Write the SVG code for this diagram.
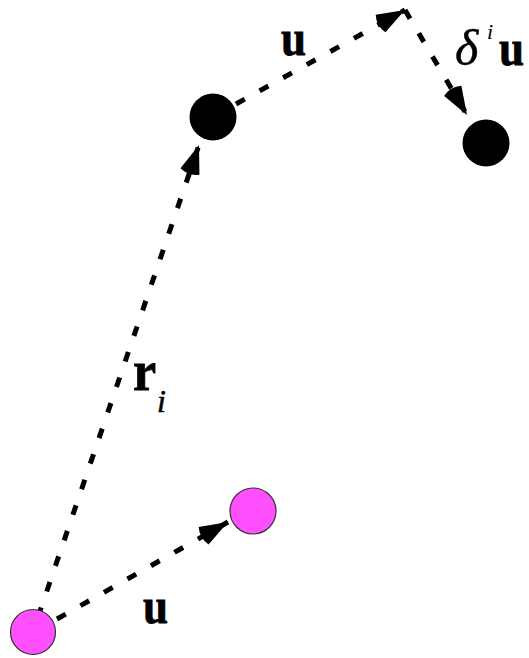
<svg xmlns="http://www.w3.org/2000/svg" width="529" height="658" viewBox="0 0 529 658">
<style>
.c{fill:none;stroke:#000;stroke-width:5;stroke-dasharray:10 17}
.bl{fill:#000}
.pk{fill:#ff50ff;stroke:#333;stroke-width:1.2}
.lb{font-family:"Liberation Serif",serif;font-weight:bold;fill:#000;stroke:#000;stroke-width:0.8}
.it{font-family:"Liberation Serif",serif;font-style:italic;fill:#000}
</style>
<defs>
<marker id="ah" markerUnits="userSpaceOnUse" markerWidth="40" markerHeight="30" viewBox="-34 -15 40 30" refX="0" refY="0" orient="auto">
<path d="M0,0 L-28,-10 Q-33,0 -28,10 Z" fill="#000"/>
</marker>
</defs>
<rect width="529" height="658" fill="#fff"/>
<g id="connectors">
<path class="c" d="M38,617 L199,145" marker-end="url(#ah)"/>
<path class="c" d="M57,619 L228,522" marker-end="url(#ah)"/>
<path class="c" d="M236,104 L405,10" marker-end="url(#ah)"/>
<path class="c" d="M405,10 L467,115" marker-end="url(#ah)"/>
</g>
<g id="pink1"><circle class="pk" cx="33" cy="632" r="22.5"/></g>
<g id="pink2"><circle class="pk" cx="253" cy="511" r="23"/></g>
<g id="black1"><circle class="bl" cx="213" cy="117" r="23.5"/></g>
<g id="black2"><circle class="bl" cx="486" cy="143" r="23.5"/></g>
<g id="labels">
<text class="lb" x="281" y="55" font-size="50" transform="translate(281 55) scale(0.9 1) translate(-281 -55)">u</text>
<text class="lb" x="143" y="623" font-size="50" transform="translate(143 623) scale(0.9 1) translate(-143 -623)">u</text>
<text class="lb" x="499" y="65" font-size="50" transform="translate(499 65) scale(0.9 1) translate(-499 -65)">u</text>
<text class="it" x="455" y="65" font-size="50" stroke="#000" stroke-width="0.5">δ</text>
<text class="it" x="487" y="39" font-size="22">i</text>
<text class="lb" x="133" y="390" font-size="58" transform="translate(133 390) scale(0.9 1) translate(-133 -390)">r</text>
<text class="it" x="157" y="412" font-size="32" stroke="#000" stroke-width="0.5">i</text>
</g>
</svg>
